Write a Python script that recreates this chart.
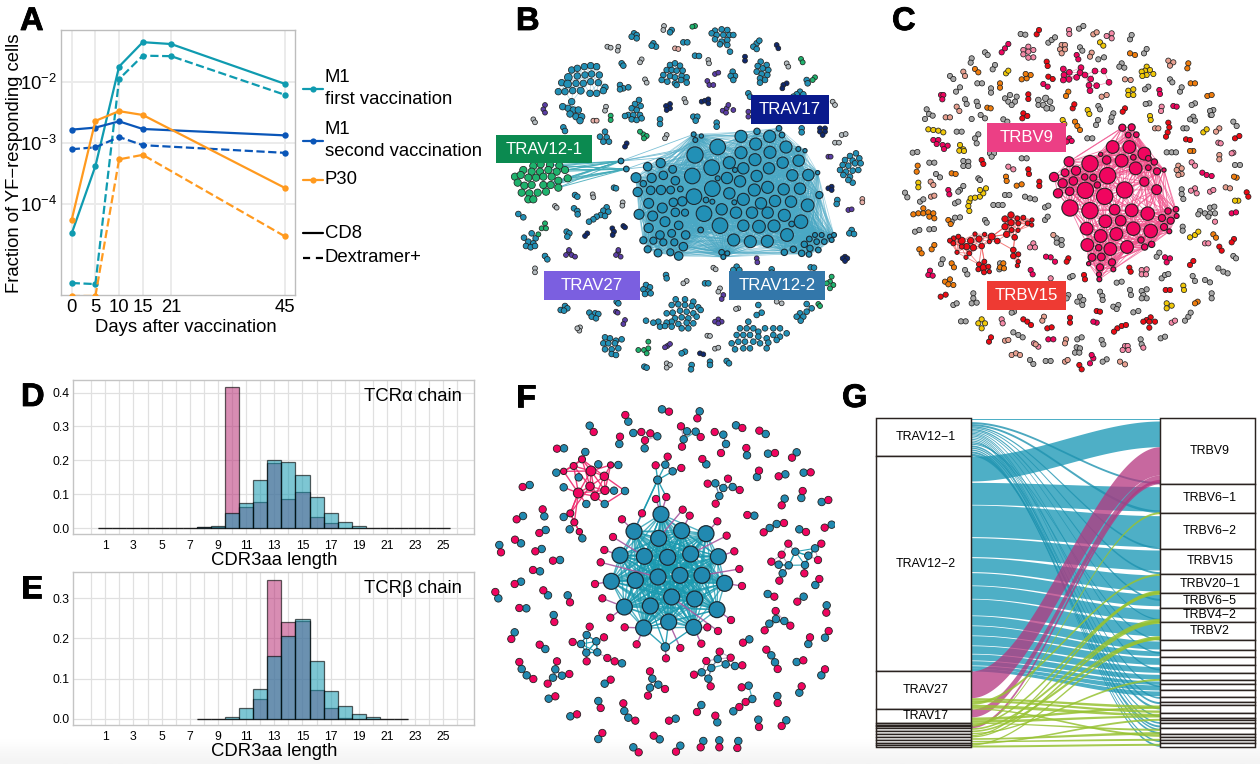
import numpy as np, pandas as pd, matplotlib
matplotlib.use("Agg")
import matplotlib.pyplot as plt, seaborn as sns
import matplotlib.patheffects as pe
from matplotlib.collections import LineCollection
from matplotlib.patches import Rectangle
from itertools import combinations

sns.set_theme(style="white")
plt.rcParams['font.family'] = ['Liberation Sans', 'DejaVu Sans']
plt.rcParams['mathtext.fontset'] = 'custom'
plt.rcParams['mathtext.rm'] = 'Liberation Sans'
plt.rcParams['text.color'] = 'black'
plt.rcParams['axes.labelcolor'] = 'black'
plt.rcParams['xtick.color'] = 'black'
plt.rcParams['ytick.color'] = 'black'

W, H = 1260, 764
FS = 13.3
fig = plt.figure(figsize=(12.6, 7.64), dpi=100, facecolor='white')
def px_axes(l, t, w, h):
    a = fig.add_axes([l/W, 1-(t+h)/H, w/W, h/H])
    a.patch.set_alpha(0)
    return a

TEAL, PINK = '#2189b0', '#f0055f'

# ---------- A: time course ----------
days = [0, 5, 10, 15, 21, 45]
days_m2 = [0, 5, 10, 15, 45]
m1_first_cd8 = [3.36e-5, 4.2e-4, 1.76e-2, 4.4e-2, 4.1e-2, 9.2e-3]
m1_first_dex = [5.2e-6, 5.0e-6, 1.1e-2, 2.65e-2, 2.6e-2, 6.1e-3]
m1_second_cd8 = [1.65e-3, 1.78e-3, 2.25e-3, 1.69e-3, 1.33e-3]
m1_second_dex = [7.9e-4, 8.5e-4, 1.25e-3, 9.2e-4, 6.9e-4]
p30_cd8 = [5.6e-5, 2.29e-3, 3.3e-3, 2.86e-3, 1.85e-4]
p30_dex = [3.2e-6, 3.2e-6, 5.4e-4, 6.4e-4, 3.0e-5]

axA = px_axes(61.3, 30.3, 234, 265)
C1, C2, C3 = '#0f9bb0', '#0a56b8', '#ff9a1f'
for xs, ys, c, ls in [(days, m1_first_cd8, C1, '-'), (days, m1_first_dex, C1, '--'),
                      (days_m2, m1_second_cd8, C2, '-'), (days_m2, m1_second_dex, C2, '--'),
                      (days_m2, p30_cd8, C3, '-'), (days_m2, p30_dex, C3, '--')]:
    sns.lineplot(x=xs, y=ys, color=c, linestyle=ls, marker='o', markersize=4.6, linewidth=1.6,
                 markeredgewidth=0, ax=axA, errorbar=None, zorder=3)
axA.set_yscale('log')
axA.set_xlim(-2.2, 47.2)
axA.set_ylim(10**-5.484, 10**-1.163)
axA.set_xticks(days)
axA.set_yticks([1e-2, 1e-3, 1e-4])
axA.set_yticklabels([r'$\mathregular{10^{-2}}$', r'$\mathregular{10^{-3}}$', r'$\mathregular{10^{-4}}$'])
axA.minorticks_off()
axA.grid(True, color='#ebebeb', lw=1.4)
axA.set_axisbelow(True)
axA.tick_params(axis='both', labelsize=FS, length=0, pad=3)
axA.set_xlabel('Days after vaccination', fontsize=FS, labelpad=1)
axA.xaxis.set_label_coords(0.534, -0.089, transform=axA.transAxes)
axA.xaxis.label.set_verticalalignment('top')
axA.set_ylabel('Fraction of YF−responding cells', fontsize=FS)
axA.yaxis.set_label_coords(-0.165, 0.5)
for s in axA.spines.values():
    s.set_color('#bdbdbd'); s.set_linewidth(1.0)

# ---------- D / E: length histograms ----------
lenA = list(range(1, 26))
alpha_yf = [.002,0,0,0,0,0,.001,.004,.008,.044,.074,.143,.200,.194,.158,.091,.044,.020,.008,.002,.0005,.0005,.0005,.0005,.0005]
alpha_m1 = [.002,0,0,0,0,0,.002,.004,.005,.415,.063,.076,.192,.085,.106,.032,.017,.001,0,.001,0,0,0,0,0]
lenB = list(range(8, 23))
beta_yf = [.0003,.001,.005,.028,.075,.157,.207,.247,.145,.070,.032,.012,.004,.001,.0005]
beta_m1 = [.0005,.0005,.001,.001,.050,.345,.241,.243,.073,.028,.003,0,0,0,0]
tick_lens = list(range(1, 26, 2))

def hist_panel(ax, lens, m1, yf, ylim, yticks, title):
    for vals, col in [(m1, (183/255, 44/255, 116/255, .54)), (yf, (15/255, 150/255, 175/255, .54))]:
        before = len(ax.patches)
        sns.barplot(x=lens, y=vals, native_scale=True, width=1.0, color='gray', ax=ax, zorder=3)
        for p in ax.patches[before:]:
            p.set_facecolor(col); p.set_edgecolor((0, 0, 0, .62)); p.set_linewidth(0.9)
    ax.set_xlim(-1.27, 27.2); ax.set_ylim(*ylim)
    ax.set_xticks(tick_lens); ax.set_yticks(yticks)
    ax.set_xticks(range(0, 27), minor=True)
    ax.grid(True, which='both', axis='x', color='#e0e0e0', lw=.9)
    ax.grid(True, which='major', axis='y', color='#e0e0e0', lw=.9)
    ax.set_axisbelow(True)
    ax.tick_params(axis='x', which='major', labelsize=8.8, length=2.5, pad=1.5, color='#999999')
    ax.tick_params(axis='x', which='minor', length=2, color='#999999')
    ax.tick_params(axis='y', labelsize=8.8, length=0, pad=3)
    ax.set_yticklabels([f'{t:.1f}' for t in yticks])
    ax.set_xlabel('CDR3aa length', fontsize=FS, labelpad=0)
    for s in ax.spines.values():
        s.set_color('#c4c4c4'); s.set_linewidth(1.0)
    ax.text(0.969, 0.892, title, transform=ax.transAxes, ha='right', va='center', fontsize=FS)

axD = px_axes(73.3, 380.3, 401, 154)
hist_panel(axD, lenA, alpha_m1, alpha_yf, (-.0177, .436), [0, .1, .2, .3, .4], 'TCRα chain')
axE = px_axes(73.3, 572.3, 401, 153)
hist_panel(axE, lenB, beta_m1, beta_yf, (-.0157, .364), [0, .1, .2, .3], 'TCRβ chain')

# ---------- network helpers (coordinates are the layout) ----------
def net_axes(l, t, w, h):
    a = px_axes(l, t, w, h)
    return a
def nodes(ax, pts, color, r=7.0, ec='#222222', lw=.55, z=3):
    xs = [p[0] for p in pts]; ys = [p[1] for p in pts]
    rs = [p[2] if len(p) > 2 else r for p in pts]
    sizes = [(0.51*q)**2 for q in rs]
    sns.scatterplot(x=xs, y=ys, s=sizes, color=color, edgecolor=ec, linewidth=lw, ax=ax, zorder=z, legend=False)
def edges(ax, segs, color, lw=.5, alpha=.6, z=1):
    ax.add_collection(LineCollection(segs, colors=color, linewidths=lw, alpha=alpha, zorder=z))
def pairs_within(pts, dist):
    return [((a[0], a[1]), (b[0], b[1])) for a, b in combinations(pts, 2)
            if (a[0]-b[0])**2+(a[1]-b[1])**2 <= dist**2]
def finish(ax, w, h):
    ax.set_xlim(0, w); ax.set_ylim(h, 0); ax.set_axis_off()
def label(ax, x0, y0, x1, y1, txt, col):
    ax.add_patch(Rectangle((x0, y0), x1-x0, y1-y0, facecolor=col, edgecolor='none', zorder=6))
    ax.text((x0+x1)/2, (y0+y1)/2+1, txt, color='white', ha='center', va='center', fontsize=12.1, zorder=7)

# ---------- B ----------
b_main_big = [(615,465,23),(683,441,22),(753,409,17),(839,409,17),(797,432,17),(888,441,17),(753,458,17),(840,457,17),(795,479,17),(718,488,17),(665,503,22),(607,528,22),(760,505,16),(878,488,16),(926,482,16),(837,505,16),(800,528,16),(711,534,16),(907,526,16),(955,525,16),(667,566,22),(612,590,22),(750,544,16),(793,570,17),(833,562,17),(881,568,16),(930,566,16),(718,580,16),(760,598,17),(855,603,16),(813,610,16),(903,605,16),(953,616,18),(642,641,22),(695,628,16),(738,638,16),(786,638,16),(833,638,16),(883,646,17),(933,665,19),(690,677,22),(760,677,16),(807,680,18),(852,678,17),(891,705,18),(731,720,17),(781,725,17),(832,724,17)]
b_main_small = [(473,500,12),(512,489,13),(438,533,14),(460,551,9),(485,534,13),(520,526,12),(548,508,11),(556,542,12),(482,571,12),(443,576,13),(513,570,13),(542,570,11),(571,567,8),(577,604,13),(476,610,14),(517,624,14),(550,607,12),(447,643,14),(488,648,14),(525,665,14),(556,637,12),(585,638,10),(476,684,13),(566,676,12),(510,705,12),(545,700,11),(587,705,12),(460,721,10),(490,722,10),(520,727,10),(553,727,10),(473,748,10),(504,759,11),(541,757,10),(566,768,12),(580,740,12),(632,690,8),(648,600,8),(667,605,7),(683,535,7),(735,510,7),(733,607,7),(611,403,7),(616,420,7),(634,408,6),(801,394,9),(867,385,8),(876,405,8),(695,757,8),(712,760,7),(700,771,7),(883,757,9),(910,748,9),(935,760,9),(957,763,8),(943,733,9),(960,745,9),(985,750,8),(958,717,8),(980,725,8),(1003,725,8),(975,705,7),(995,705,7),(1020,710,7),(1032,705,7),(1025,720,7),(988,585,10),(983,518,6),(925,447,7),(945,452,6),(905,672,8)]
b_bridge = [(393,483,8),(409,507,8)]
b_green = [(130,498),(152,493),(180,495),(208,497),(100,510),(125,515),(150,515),(175,510),(200,515),(225,510),(75,530),(92,525),(115,533),(138,533),(160,530),(185,530),(205,542),(233,535),(83,548),(103,557),(125,555),(160,555),(182,555),(205,563),(118,580),(143,578),(168,575),(95,578),(115,598),(130,598)]
b_topleft = [(245,210),(262,205),(283,200),(302,197),(320,200),(235,232,11),(262,228),(285,225),(305,222),(328,225),(215,248),(233,252,11),(258,250),(280,250),(302,245),(325,248),(345,262),(205,275),(225,275),(248,272),(272,272,10),(300,280),(320,280),(340,272),(245,305),(218,320),(235,325),(250,330),(265,330),(240,342),(258,350),(275,350),(270,362)]
b_teal_clusters = [(540,195),(555,190),(570,197),(530,210),(545,210),(560,212),(578,212),(520,225),(540,228),(555,232),(575,228),(590,232),(515,240),(532,245),(555,250),(573,240),(590,248),(560,255),
 (675,92),(695,88),(712,90),(665,100),(680,105),(700,105),(718,105),(730,105),(675,118),(695,125),(712,120),(690,133),(712,135),(720,155),
 (812,185),(830,195),(803,198),(818,205),(835,210),(800,215),(815,222),(832,225),(810,235),(825,240),(810,248),
 (1098,460),(1080,468),(1108,475),(1065,480),(1088,482),(1058,495),(1075,497),(1095,490),(1112,490),(1050,510),(1068,515),(1088,512),(1105,510),(1060,525),(1080,530),(1088,548),(1075,540),
 (557,898),(585,898),(610,905),(545,915),(565,913),(585,915),(605,918),(625,922),(548,938),(570,932),(590,935),(610,940),(632,930),(530,940),(555,955),(575,952),(595,955),(620,950),(565,972),(590,968),(610,970),(575,985),(595,985),(545,965),(530,968),(505,965),(490,968),(468,962),(510,980),(525,978),(545,980),
 (805,915),(815,938),(800,945),(775,965),(790,985),(770,985),(750,985),(805,995),(825,985),(850,985),(870,985),(890,1000),(740,1005),(760,1005),(780,1005),(805,1010),(830,1015),(850,1005),(870,1010),(725,1030),(745,1025),(765,1025),(790,1025),(810,1030),(835,1028),(860,1020),(735,1048),(760,1045),(780,1045),(830,1045),
 (102,713),(125,700),(137,715),(115,725),(130,730),(108,738),(122,742),(135,738),
 (345,1012),(360,1015),(378,1022),(395,1018),(340,1030),(355,1030),(375,1030),(345,1048),(365,1048),(385,1045),(365,1062),(378,1065),
 (447,300),(435,312),(452,318),(425,325),(440,330),(415,345),(430,345),(450,345),(405,348),(425,358),(440,360),(455,355),
 (350,622),(340,632),(355,635),(332,645),(320,650),(310,658),(297,665),(345,648),
 (345,395),(330,410),(350,412),(340,425),(357,425),(468,855),(480,862),(460,868),(475,875),(465,882),(482,880),
 (298,938),(315,940),(325,942),(305,950),(318,955),(212,930),(225,918),(232,925),(222,932),
 (950,912),(965,925),(950,935),(930,940),(920,950),(940,950),(932,962),
 (545,90),(540,97),(432,100),(440,105),(425,110),(440,115),(490,130),(498,140),(485,137),(580,127),(592,127),(615,167),(627,168),(395,190),(400,197),(800,130),(790,140),(808,122),(800,147),(728,215),(735,228),(722,228),(730,240),(950,240),(953,250),(775,280),(780,290),(390,255),(400,265),(415,262),(390,268),(610,350),(622,350),(617,362),(510,358),(510,372),(680,368),(680,380),(220,382),(225,393),(935,385),(935,397),(372,563),(378,565),(255,585),(262,590),(1042,600),(1040,612),(252,625),(262,633),(263,643),(85,642),(100,652),(230,695),(238,700),(232,710),(165,768),(172,778),(1085,690),(1078,700),(1092,702),(528,825),(530,835),(645,850),(655,850),(962,802),(972,803),(380,905),(385,910),(585,1055),(575,1060),(710,1083),(717,1090),(660,1085),(660,1095),(605,1095),(603,1108),(463,1100),(470,1103),(740,800),(730,810),(748,810),(845,808),(845,818),(930,275),(920,283),(940,283),(910,290)]
b_purple = [(710,325),(698,332),(715,315),(730,330),(708,338),(385,755),(378,765),(392,770),(385,750),(237,757),(228,765),(245,765),(255,770),(237,750),(685,958),(675,965),(695,965),(685,970),(165,315),(160,328),(165,338),(675,222),(685,218),(652,243),(658,255),(670,255),(800,775),(802,787),(532,1038),(525,1042),(540,1032),(378,935),(383,938),(405,960),(400,972),(700,885),(695,897),(1075,630),(1085,628),(1015,470),(1022,470),(775,335),(775,350)]
b_navy = [(540,312),(528,318),(540,325),(530,330),(635,305),(645,302),(655,298),(655,310),(890,250),(880,255),(877,265),(860,135),(865,145),(765,170),(765,182),(410,430),(405,440),(990,385),(1005,385),(990,395),(1005,395),(998,405),(1025,560),(1015,565),(1025,570),(1065,770),(1058,775),(1072,775),(1065,783),(400,678),(405,682),(367,685),(372,695),(368,705),(292,700),(285,708),(630,1060),(640,1063)]
b_green_small = [(460,403),(450,395),(470,408),(462,415),(362,347),(362,360),(933,177),(938,187),(975,232),(968,240),(615,78),(607,80),(1025,830),(1020,845),(1010,850),(1030,855),(1020,865),(462,1050),(475,1045),(445,1050),(470,1060),(475,1025),(985,912),(990,918),(165,670),(155,685),(168,685),(145,703)]
b_gray = [(522,78),(520,90),(352,140),(362,143),(385,140),(383,152),(455,178),(450,187),(655,180),(657,190),(890,190),(895,200),(465,238),(470,248),(583,297),(587,307),(348,320),(345,332),(130,358),(135,367),(530,405),(525,415),(1055,405),(1067,402),(1035,428),(1047,428),(1028,305),(1035,315),(308,583),(310,592),(398,607),(397,617),(195,618),(200,623),(670,803),(677,808),(745,925),(738,927),(860,905),(875,910),(135,805),(135,817),(590,843),(580,850),(270,982),(268,992),(262,985),(530,1090),(540,1095),(530,1103),(652,1007),(660,1008),(675,1046),(685,1043),(690,865),(685,875)]
b_salmon = [(555,145),(565,147),(310,362),(320,362),(1117,597),(1117,607)]
b_link_main = [(393,483,611,403),(393,483,615,440),(393,483,590,450),(409,507,600,440),(393,483,560,470),(409,507,473,500),(1032,705,990,600),(1025,700,985,590)]
b_green_link = [(208,497),(225,510),(233,535),(205,542),(205,563),(200,515),(175,510),(180,495),(160,555),(182,555)]

axB = net_axes(490, 0, 380, 375)
main_b = b_main_big + b_main_small
edges(axB, pairs_within(main_b, 250), '#4aa8c4', lw=.5, alpha=.5)
edges(axB, [((a, b), (c, d)) for a, b, c, d in b_link_main], '#5fb2cc', lw=.6, alpha=.8)
edges(axB, [((p[0], p[1]), (q[0], q[1])) for p in b_green_link for q in b_bridge], '#3fa9b8', lw=.7, alpha=.85)
edges(axB, pairs_within(b_topleft, 45), '#5fb2cc', lw=.5, alpha=.5)
edges(axB, pairs_within(b_teal_clusters, 26), '#5fb2cc', lw=.5, alpha=.6)
nodes(axB, main_b + b_bridge, '#2290b6', lw=.8, ec='#1c2a33')
nodes(axB, b_topleft, '#2290b6', r=9.2)
nodes(axB, b_teal_clusters, '#2290b6', r=8)
nodes(axB, b_green, '#1fb36e', r=10.3)
nodes(axB, b_green_small, '#1fb36e', r=7)
nodes(axB, b_purple, '#5b3ea6', r=6.8)
nodes(axB, b_navy, '#10296e', r=6.8)
nodes(axB, b_gray, '#b4bcc0', r=6.8)
nodes(axB, b_salmon, '#e8b0a8', r=6.8)
label(axB, 18, 405, 305, 488, 'TRAV12-1', '#0b8a50')
label(axB, 783, 285, 1017, 372, 'TRAV17', '#0a1a8c')
label(axB, 162, 813, 449, 900, 'TRAV27', '#7b5fe0')
label(axB, 717, 813, 1004, 900, 'TRAV12-2', '#3377aa')
finish(axB, 1140, 1125)

# ---------- C ----------
c_main = [(727,383,10),(755,382,10),(745,405,8),(769,404,8),(698,441,18),(748,441,18),(793,461,18),(760,472,8),(725,482,18),(680,480,12),(662,463,6),(805,475,8),(823,486,9),(767,505,18),(805,503,8),(831,514,10),(852,510,6),(793,545,13),(830,569,14),(630,491,23),(567,485,14),(683,527,23),(588,512,13),(555,518,11),(522,531,13),(614,531,9),(640,533,10),(580,543,12),(548,550,13),(652,555,9),(616,571,23),(734,570,23),(674,589,23),(534,580,13),(569,574,12),(570,624,23),(630,632,23),(704,629,15),(755,631,18),(803,641,19),(864,633,9),(888,628,8),(846,654,10),(872,662,10),(890,648,7),(852,681,10),(868,694,7),(676,664,18),(722,662,15),(760,686,19),(812,693,19),(620,686,18),(662,708,18),(709,702,18),(783,720,9),(622,735,18),(691,747,18),(741,741,18),(656,743,9),(794,741,9),(815,733,9),(636,772,11),(664,771,11),(696,787,10),(626,791,6),(660,802,10),(657,823,7),(658,838,7),(700,808,7)]
c_red = [(393,645,9),(375,657,9),(412,655,7),(430,653,7),(393,668,9),(375,680,9),(415,670,7),(443,670,7),(456,660,6),(455,675,6),(395,690,7),(380,703,9),(414,691,6),(404,712,8),(335,710,10),(314,703,6),(285,702,6),(297,717,9),(245,722,10),(272,722,9),(221,715,7),(210,722,7),(235,710,7),(220,730,7),(260,740,9),(245,740,7),(280,743,9),(305,738,8),(328,725,6),(352,723,8),(231,757,6),(268,760,7),(258,772,6),(400,750,8),(400,768,8),(415,763,7),(415,785,6),(412,797,6),(297,793,7),(313,785,7),(310,803,9),(295,808,7),(325,800,7),(312,817,7),(328,815,6)]
c_red_long = [(335,710,375,680),(335,710,393,668),(404,712,400,750),(352,723,400,750),(305,738,297,793),(305,738,313,785),(456,660,415,691),(335,710,380,703)]
c_main_long = [(567,485,727,383),(590,470,727,383),(700,800,741,741),(741,760,815,733),(830,569,864,633),(830,569,846,654),(793,545,812,693),(830,569,755,631),(830,569,803,641)]
c_hotcl = [(550,207),(568,217),(552,225),(567,238),(550,240),(590,232),(603,203),(600,218),(615,225),(632,237),(645,213),(672,213),(687,247),(627,256),(650,257),(630,272)]
c_gray = [(422,102),(436,104),(505,128),(515,120),(525,112),(597,86),(610,78),(750,118),(755,105),(792,160),(800,147),(600,142),(607,152),(655,178),(672,172),(725,190),(718,200),(733,203),(870,238),(877,247),(945,310),(935,315),(1000,330),(992,345),(700,340),(695,352),(692,365),(655,318),(660,328),(654,360),(648,375),(315,157),(323,165),(275,175),(272,188),(345,195),(338,208),(210,228),(220,237),(292,250),(306,250),(240,262),(228,275),(333,265),(333,278),(255,298),(260,312),(290,305),(294,318),(140,328),(147,342),(135,357),(158,347),(275,357),(302,345),(315,355),(370,358),(382,365),(230,395),(245,395),(295,403),(290,430),(285,415),(98,458),(112,456),(148,488),(163,488),(250,483),(265,485),(250,498),(265,498),(168,522),(180,532),(330,460),(342,460),(335,470),(425,475),(440,475),(240,570),(250,558),(235,575),(295,535),(300,540),(75,578),(82,592),(120,605),(130,598),(225,610),(235,605),(375,585),(388,585),(435,590),(450,595),(465,598),(340,615),(355,615),(368,615),(495,622),(505,617),(495,660),(503,650),(315,660),(320,668),(225,653),(240,652),(215,665),(105,695),(118,690),(148,688),(162,687),(255,810),(262,823),(188,778),(183,792),(622,415),(637,415),
 (805,260),(795,268),(900,275),(905,262),(808,310),(797,312),(940,350),(930,358),(945,362),(990,333),(995,345),(910,385),(920,385),(860,457),(875,457),(888,457),(1060,365),(1070,378),(1065,495),(1080,495),(905,568),(905,582),(910,597),(908,680),(908,692),(1060,768),(1068,775),(1015,805),(1030,815),(1043,820),(938,828),(945,843),(975,840),(990,847),(995,880),(995,895),(845,835),(855,825),(865,822),(830,770),(838,758),(710,848),(725,845),(750,870),(753,885),(785,873),(800,868),(790,885),(800,895),(785,895),(660,875),(667,888),(668,900),(700,920),(715,915),(710,927),(760,937),(775,933),(915,962),(925,950),(932,938),(842,1015),(855,1010),(782,1018),(785,1033),(665,1020),(670,1033),(680,1078),(668,1085),(590,1042),(600,1045),(585,1058),(598,1058),(592,1018),(605,1012),(497,1083),(512,1083),(450,1080),(460,1092),(400,997),(415,1005),(428,1012),(243,964),(257,964),(220,915),(230,910),(280,880),(280,895),(275,910),(290,908),(570,832),(578,828),(565,885),(560,895),(600,890),(610,900),(592,905),(607,915),(402,935),(395,938),
 (497,295,9),(475,300,8),(510,305,8),(490,315,8),(515,325,8),(500,325,8),(475,315,7),(375,295),(390,285),(410,290),(385,305),(405,305),(395,315),(990,623),(1003,620),(960,633),(975,640),(990,640),(1005,640),(985,650),(955,643),(530,715),(545,720),(530,728),(545,735),(360,790),(358,808)]
c_yellow = [(660,127),(670,137),(378,220),(385,212),(145,388),(160,390),(175,392),(190,397),(240,435),(250,448),(238,452),(252,453),(115,548),(115,562),(800,200),(795,212),(810,210),(785,215),(820,222),(800,225),(787,228),(623,330),(628,342),(745,272),(760,268),(745,285),(760,285),(810,348),(812,360),(970,397),(980,388),(1075,602),(1065,602),(930,712),(945,705),(955,695),(860,910),(875,917),(860,925),(910,857),(912,870),(305,958),(295,970),(315,970),(305,985),(268,605),(272,595),(285,593),(300,590),(310,580),(318,565),(300,570),(265,618),(268,633),(548,360),(553,372)]
c_orange = [(285,207),(295,217),(322,323),(332,325),(360,250),(360,263),(425,238),(440,235),(452,225),(437,222),(750,160),(765,165),(925,190),(922,205),(932,250),(945,250),(982,288),(995,285),(565,275),(558,288),(585,365),(592,378),(600,390),(110,515),(113,497),(215,520),(227,522),(378,530),(380,543),(410,557),(425,553),(130,625),(115,640),(100,643),(130,640),(145,637),(160,640),(148,650),(163,655),(205,660),(212,672),(118,748),(125,760),(155,748),(163,735),(215,790),(222,802),(195,845),(210,838),(220,855),(205,853),(940,453),(930,453),(1070,533),(1062,530),(1000,703),(1008,713),(953,905),(945,910),(370,790),(360,802),(372,805)]
c_redsmall = [(470,103),(477,90),(500,185),(503,198),(505,230),(518,237),(445,283),(445,297),(578,325),(583,313),(430,340),(427,355),(442,348),(735,325),(728,335),(865,368),(868,382),(863,397),(858,410),(918,418),(930,420),(1065,415),(1078,408),(305,480),(310,492),(445,508),(447,522),(478,545),(478,558),(1100,577),(1105,590),(565,775),(560,785),(612,825),(615,838),(748,803),(752,815),(940,783),(930,795),(1062,717),(1055,727),(1018,740),(1025,752),(857,870),(870,870),(800,960),(812,952),(790,965),(808,965),(825,965),(808,983),(712,985),(725,978),(738,975),(702,995),(650,933),(660,935),(570,953),(570,968),(502,985),(515,982),(430,958),(442,965),(453,975),(327,1025),(333,1012),(598,1095),(605,1108),(182,890),(197,884)]
c_hot = [(365,157),(375,145),(385,132),(183,285),(190,285),(187,298),(160,420),(175,420),(170,432),(188,435),(203,437),(192,447),(205,570),(208,583),(880,318),(890,320),(838,270),(840,282),(1055,640),(1068,637),(967,518),(980,525),(995,528),(855,772),(870,775),(860,787),(512,772),(498,770),(525,785),(150,812),(145,825),(158,827),(452,810),(458,823),(590,165),(595,178),(490,252),(503,260),(650,968),(640,965),(505,1018),(520,1018),(630,1090),(640,1075),(635,1065),(568,415),(575,423),(560,425)]
c_light = [(567,90),(568,102),(680,108),(695,100),(695,115),(445,140),(430,150),(460,150),(445,155),(430,163),(460,172),(445,173),(385,500),(400,508),(845,320),(843,333),(1015,428),(1022,430),(935,487),(945,497),(1060,458),(1055,460),(990,575),(1000,570),(945,565),(933,572),(950,580),(1005,665),(975,730),(985,730),(460,730),(450,742),(465,742),(785,810),(800,808),(785,823),(798,823),(875,968),(885,962),(365,958),(368,970),(462,1030),(475,1040),(735,1038),(743,1038),(728,1050),(745,1050),(790,1043),(512,835)]
c_salmon = [(250,215),(255,228),(230,320),(238,333),(197,352),(210,352),(640,103),(650,97),(545,135),(555,135),(540,148),(555,148),(545,160),(635,158),(630,170),(735,238),(752,240),(665,290),(680,285),(825,385),(835,385),(1018,385),(1008,395),(1018,465),(1018,478),(152,545),(160,555),(153,590),(163,587),(1037,562),(1050,565),(865,182),(880,187),(870,197),(520,705),(895,497),(905,505),(890,510),(905,522),(895,525),(492,950),(487,962),(375,1022),(385,1020),(558,1018),(555,1030),(395,1065),(408,1060),(420,1065),(467,1033),(555,1085),(563,1080),(720,1085),(735,1093)]

axC = net_axes(880, 0, 380, 375)
edges(axC, pairs_within(c_main, 150), '#f0508a', lw=.6, alpha=.75)
edges(axC, [((a, b), (c, d)) for a, b, c, d in c_main_long], '#f2649a', lw=.7, alpha=.85)
edges(axC, pairs_within(c_red, 48), '#f25a5a', lw=.6, alpha=.7)
edges(axC, [((a, b), (c, d)) for a, b, c, d in c_red_long], '#f25a5a', lw=.7, alpha=.8)
edges(axC, pairs_within(c_hotcl, 42), '#f2649a', lw=.5, alpha=.7)
for pts, col in [(c_gray, '#a8a8a8'), (c_yellow, '#f0c808'), (c_orange, '#f07d0d'), (c_redsmall, '#ee0a14'),
                 (c_hot, PINK), (c_light, '#f58aa8'), (c_salmon, '#e8a090')]:
    nodes(axC, pts, col, r=7.4)
nodes(axC, c_hotcl, PINK, r=8.2)
nodes(axC, c_red, '#ee0a14', lw=.6)
nodes(axC, c_main, PINK, lw=.8, ec='#222222')
label(axC, 321, 369, 557, 456, 'TRBV9', '#ec3f85')
label(axC, 321, 843, 557, 930, 'TRBV15', '#ee3a33')
finish(axC, 1140, 1125)

# ---------- F ----------
f_core = [(528,388),(447,439),(521,460),(590,437),(663,446),(405,511),(478,514),(548,517),(617,507),(700,515),(379,589),(451,586),(519,576),(585,571),(651,571),(719,595),(418,666),(496,663),(560,636),(629,642),(696,674),(476,729),(551,711),(626,727)]
f_core_outer = [(541,786,12),(518,285,11.5)]
f_pendants = [(411,403,447,439),(471,385,447,439),(384,456,478,514),(358,495,405,511),(347,532,519,576),(330,597,379,589),(352,640,418,666),(376,698,418,666),(419,727,476,729),(455,778,476,729),(513,342,528,388),(544,336,528,388),(593,374,521,460),(614,392,590,437),(697,409,663,446),(725,452,617,507),(748,499,700,515),(763,552,651,571),(771,603,719,595),(738,705,696,674),(699,738,560,636),(667,727,626,727),(649,776,626,727),(586,789,551,711),(543,820,541,786)]
f_outer_links = [(518,285,447,439),(518,285,528,388),(518,285,471,385),(518,285,544,336),(518,285,512,241),(518,285,541,239),(518,285,563,259),(541,239,548,215),(563,259,589,249),(541,786,476,729),(541,786,551,711),(541,786,626,727),(541,786,496,663)]
f_pair_teal = [(531,73),(644,79),(430,110),(314,122),(403,177),(237,190),(134,300),(114,393),(178,394),(182,435),(43,480),(108,475),(170,492),(225,525),(165,559),(108,590),(189,631),(40,640),(124,670),(248,631),(206,690),(89,742),(181,792),(359,896),(191,941),(256,994),(340,948),(340,1062),(445,1087),(524,1063),(586,1082),(655,1068),(703,1066),(760,1068),(697,1012),(649,960),(572,1001),(820,1004),(904,1006),(877,933),(943,923),(1009,871),(935,831),(1020,758),(970,777),(1025,661),(956,635),(848,627),(991,600),(793,763),(664,238),(808,392),(949,339),(899,341),(1010,351),(1040,419),(943,433),(956,263),(901,268),(816,276),(849,206),(935,202),(786,211),(842,147),(753,121)]
f_pair_pink = [(552,80),(637,100),(421,90),(326,141),(405,155),(216,191),(113,306),(95,403),(173,373),(163,444),(48,502),(90,464),(151,499),(204,527),(144,555),(89,597),(175,616),(31,621),(103,669),(255,652),(208,711),(79,762),(164,779),(377,884),(211,934),(276,988),(347,969),(352,1044),(461,1102),(506,1052),(573,1100),(647,1087),(703,1087),(757,1089),(691,992),(636,981),(552,1007),(822,1026),(890,1023),(878,954),(950,904),(1020,853),(955,826),(1031,738),(975,757),(1024,683),(937,650),(868,635),(1003,582),(774,773),(652,222),(787,390),(953,318),(890,361),(1030,345),(1019,428),(963,441),(977,262),(881,274),(822,257),(870,204),(921,218),(784,189),(823,137),(772,129)]
f_teal = [(723,177),(715,149),(445,144),(517,154),(479,190),(606,139),(632,140),(596,163),(541,239),(563,259),(691,295),(715,309),(743,306),(703,333),(698,822),(722,838),(750,843),(679,849),(650,862),(670,881),(791,902),(745,979),(802,942),(854,429),(875,417),(873,702),(853,716),(898,708),(859,811),(870,832),(110,852),(125,871),(211,853),(204,878),(231,872),(502,881),(495,908),(520,899),(418,978),(430,998),
 (305,750),(288,777),(334,769),(304,803),(337,802),(411,835),(931,500),(970,512),(990,490),(911,541),(881,539),(960,540),(893,565)]
f_pink = [(708,204),(689,141),(469,141),(496,145),(480,166),(588,124),(647,156),(591,185),(512,241),(548,215),(589,249),(668,296),(729,281),(764,315),(692,356),(704,800),(737,818),(772,841),(664,828),(627,869),(677,904),(770,907),(763,966),(782,951),(836,442),(897,414),(872,678),(839,736),(916,722),(844,794),(878,852),(103,831),(145,882),(216,829),(188,896),(253,867),(495,859),(489,932),(540,912),(415,955),(451,1007),
 (314,725),(263,771),(357,757),(305,829),(367,819),(389,829),(910,476),(890,509),(1009,476),(859,530),(999,525),(958,565),(883,587)]
f_red_big = [(318,258,14),(358,274,12),(315,304,12),(280,324,14),(360,316,12),(330,334,12),(266,243,10),(236,259,9),(291,223,10),(256,385,10),(268,412,10),(283,440,9),(377,240,9)]
f_red_teal = [(301,201),(340,238),(400,240),(214,263),(281,277),(236,307),(387,317),(420,318),(359,357),(304,357),(236,396),(254,433),(292,460)]
f_left_tealnet = [(305,750),(288,777),(334,769),(304,803),(337,802)]
f_right_tealnet = [(931,500),(970,512),(990,490),(911,541),(881,539),(960,540)]
f_red_long = [(280,324,256,385),(280,324,268,412),(315,304,256,385),(420,318,358,274),(420,318,359,357),(359,357,330,334),(304,357,280,324),(236,307,280,324)]

axF = net_axes(485, 385, 350, 379)
edges(axF, pairs_within(f_core, 1000), '#1b9ab0', lw=1.0, alpha=.75)
edges(axF, [((a, b), (c, d)) for a, b, c, d in f_pendants], '#a8579f', lw=1.0, alpha=.9)
edges(axF, [((a, b), (c, d)) for a, b, c, d in f_outer_links], '#1b9ab0', lw=1.0, alpha=.9)
edges(axF, [(p, q) for p, q in zip(f_pair_teal, f_pair_pink)], '#7a7a9a', lw=.7, alpha=.7)
edges(axF, pairs_within(f_teal, 46), '#1b9ab0', lw=.9, alpha=.8)
edges(axF, pairs_within(f_pink + f_teal, 40), '#9a6aa0', lw=.8, alpha=.6)
edges(axF, pairs_within(f_red_big, 85), '#ee2a6e', lw=1.0, alpha=.9)
edges(axF, [((a, b), (c, d)) for a, b, c, d in f_red_long], '#ee2a6e', lw=1.0, alpha=.9)
edges(axF, pairs_within(f_left_tealnet, 60), '#1b9ab0', lw=.8, alpha=.9)
edges(axF, pairs_within(f_right_tealnet, 62), '#1b9ab0', lw=.8, alpha=.9)
nodes(axF, [(a, b) for a, b, c, d in f_pendants], PINK, r=10.4, lw=.6)
nodes(axF, f_pair_teal + f_teal + f_red_teal, TEAL, r=10.6, lw=.6)
nodes(axF, f_pair_pink + f_pink, PINK, r=10.4, lw=.6)
nodes(axF, f_red_big, PINK, lw=.7)
nodes(axF, f_core_outer, TEAL, lw=.7)
nodes(axF, f_core, TEAL, r=22.5, lw=.9, ec='#1c2a33')
finish(axF, 1050, 1137)

# ---------- G: alluvial ----------
left_names = ['TRAV12−1', 'TRAV12−2', 'TRAV27', 'TRAV17']
left_edges = [100, 214, 858, 972, 1015, 1020, 1024, 1030, 1038, 1048, 1056, 1066, 1075, 1080, 1086]
right_names = ['TRBV9', 'TRBV6−1', 'TRBV6−2', 'TRBV15', 'TRBV20−1', 'TRBV6−5', 'TRBV4−2', 'TRBV2']
right_edges = [100, 296, 384, 491, 568, 625, 669, 712, 765, 795, 815, 840, 865, 885, 897, 915, 935, 952, 960, 985, 998, 1005, 1015, 1030, 1048, 1055, 1065, 1075, 1086]
flows_teal = [(214,288,108,185),(292,358,305,378),(360,455,392,485),(458,515,495,555),(518,560,570,618),(563,600,628,662),(602,640,672,705),(642,690,715,752),(692,720,768,792),(722,750,798,812),(752,780,818,838),(782,805,845,862),(807,825,868,882),(827,840,888,898),(842,850,900,915),(850,858,918,932),(101,106,101,106)]
flows_teal_thin = [(110,116,290,296),(116,122,375,383),(122,126,485,491),(126,129,560,566),(130,134,640,646),(134,137,700,704),(138,141,800,805),(142,145,900,905),(146,149,935,940),(150,153,1010,1015),(155,158,1030,1035),(160,163,1065,1070),(165,168,1078,1084),(170,174,850,855),(175,178,760,765),(180,185,950,956),(186,190,990,995),(192,196,1040,1046),(198,204,1020,1026),(205,213,965,972)]
flows_pink = [(858,938,185,270),(972,996,270,292),(1020,1028,283,296)]
flows_green = [(938,944,960,968),(944,950,975,982),(950,958,565,571),(958,968,985,992),(996,1004,964,970),(1004,1012,990,996),(1015,1020,618,628),(1020,1024,380,386),(1028,1033,700,712),(1035,1040,752,764),(1042,1046,880,886),(1048,1052,615,625),(1052,1056,705,715),(1058,1063,1040,1048),(1066,1070,1060,1066),(1072,1076,1000,1006),(1076,1080,755,762),(1080,1086,1075,1081),(968,972,1048,1054),(1012,1015,1030,1036)]

axG = px_axes(840, 385, 420, 379)
t = np.linspace(393, 961, 120)
u = (t-393)/(961-393)
cv = u*u*(3-2*u)
def ribbon(f, col, alpha):
    axG.fill_between(t, f[0]+(f[2]-f[0])*cv, f[1]+(f[3]-f[1])*cv, color=col, alpha=alpha, lw=0, zorder=2)
for f in flows_teal: ribbon(f, '#2a9fbb', .83)
for f in flows_teal_thin: ribbon(f, '#1f93b0', .8)
for f in flows_pink: ribbon(f, '#b5367f', .75)
for f in flows_green: ribbon(f, '#97c232', .85)
def column(x0, x1, edges_, names):
    for i in range(len(edges_)-1):
        axG.add_patch(Rectangle((x0, edges_[i]), x1-x0, edges_[i+1]-edges_[i], facecolor='white',
                                edgecolor='#2a2320', lw=1.05, zorder=4))
        if i < len(names):
            axG.text((x0+x1)/2+6, (edges_[i]+edges_[i+1])/2, names[i], ha='center', va='center', fontsize=8.9, zorder=5)
column(108, 393, left_edges, left_names)
column(961, 1246, right_edges, right_names)
finish(axG, 1260, 1137)

# ---------- overlay: legend of A, panel letters, bottom fade ----------
ov = px_axes(0, 0, W, H)
for y, c, ls in [(89, C1, '-'), (141, C2, '-'), (180, C3, '-')]:
    sns.lineplot(x=[303, 323], y=[y, y], color=c, linewidth=1.6, ax=ov, errorbar=None)
    sns.scatterplot(x=[313], y=[y], color=c, s=20, linewidth=0, ax=ov, legend=False)
ov.plot([303, 323], [233, 233], color='black', lw=1.6)
ov.plot([303, 323], [258, 258], color='black', lw=1.6, ls=(0, (3.2, 2.6)))
for x, y, s in [(325, 78, 'M1'), (325, 100, 'first vaccination'), (325, 129, 'M1'), (325, 151, 'second vaccination'),
                (325, 180, 'P30'), (325, 233, 'CD8'), (325, 258, 'Dextramer+')]:
    ov.text(x, y, s, fontsize=FS, va='center', ha='left')
for x, y, s in [(20, 30, 'A'), (516, 30, 'B'), (892, 30, 'C'), (21, 406, 'D'), (21, 598, 'E'), (516, 407, 'F'), (842, 407, 'G')]:
    ov.text(x, y, s, fontsize=23.5, fontweight='bold', va='baseline', ha='left',
            path_effects=[pe.withStroke(linewidth=0.6, foreground='black')])
ov.set_xlim(0, W); ov.set_ylim(H, 0); ov.set_axis_off()

fade_levels = [1.0, .995, .99, .985, .98, .975, .97, .965, .96, .955, .95]
fd = px_axes(0, 738, W, 26)
fd.imshow(np.array(fade_levels).reshape(-1, 1), cmap='gray', vmin=0, vmax=1, aspect='auto', alpha=.9)
fd.set_axis_off()
fd.set_zorder(-1)

fig.savefig('out.png', dpi=100)
